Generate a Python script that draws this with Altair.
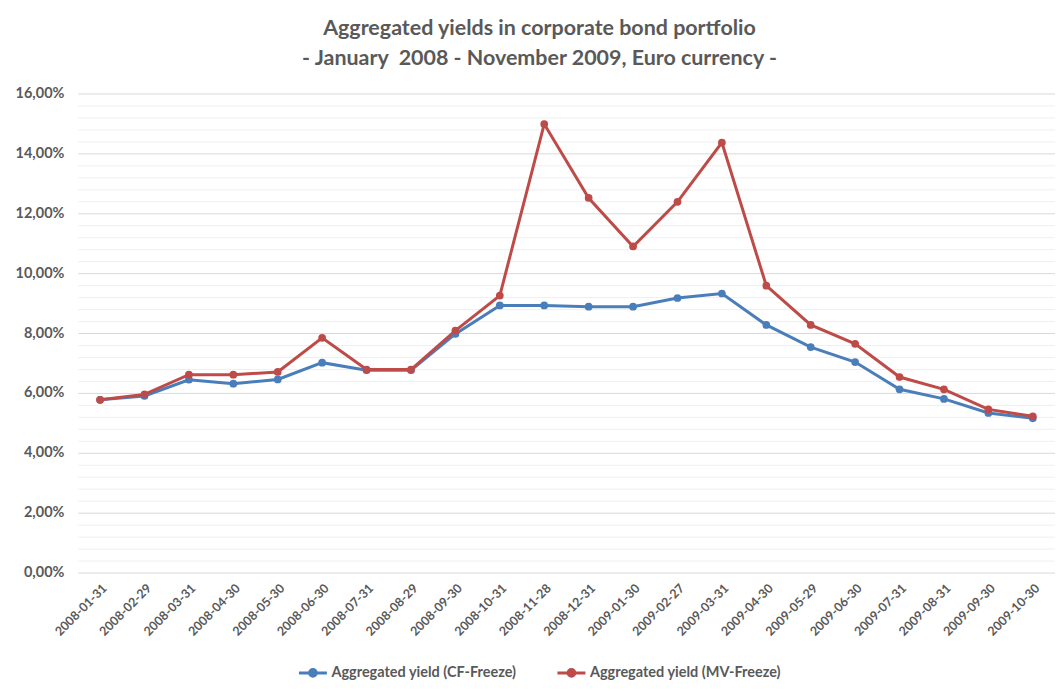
import altair as alt
import pandas as pd

dates = ["2008-01-31", "2008-02-29", "2008-03-31", "2008-04-30", "2008-05-30", "2008-06-30",
         "2008-07-31", "2008-08-29", "2008-09-30", "2008-10-31", "2008-11-28", "2008-12-31",
         "2009-01-30", "2009-02-27", "2009-03-31", "2009-04-30", "2009-05-29", "2009-06-30",
         "2009-07-31", "2009-08-31", "2009-09-30", "2009-10-30"]
cf_freeze = [0.0577, 0.0590, 0.0644, 0.0631, 0.0645, 0.0701, 0.0676, 0.0676, 0.0797, 0.0892,
             0.0892, 0.0888, 0.0888, 0.0917, 0.0932, 0.0827, 0.0753, 0.0703, 0.0612, 0.0580,
             0.0533, 0.0515]
mv_freeze = [0.0577, 0.0595, 0.0661, 0.0661, 0.0670, 0.0784, 0.0678, 0.0678, 0.0808, 0.0925,
             0.1498, 0.1251, 0.1089, 0.1238, 0.1436, 0.0958, 0.0827, 0.0764, 0.0653, 0.0612,
             0.0545, 0.0522]
series_names = ["Aggregated yield (CF-Freeze)", "Aggregated yield (MV-Freeze)"]
series_colors = ["#4a7ebb", "#be4b48"]
major_ticks = [0.0, 0.02, 0.04, 0.06, 0.08, 0.10, 0.12, 0.14, 0.16]
minor_ticks = [i * 0.004 for i in range(41) if i % 5 != 0]
title_lines = ["Aggregated yields in corporate bond portfolio",
               "- January\u00a0 2008 - November 2009, Euro currency -"]

rows = []
for d, v in zip(dates, cf_freeze):
    rows.append({"date": d, "yield": v, "series": series_names[0]})
for d, v in zip(dates, mv_freeze):
    rows.append({"date": d, "yield": v, "series": series_names[1]})
df = pd.DataFrame(rows)

FONT = "Lato"
GRAY = "#595959"

x_enc = alt.X("date:N", sort=dates, title=None,
              scale=alt.Scale(type="point", padding=0.5),
              axis=alt.Axis(labelAngle=-45, labelFont=FONT, labelFontSize=12.5,
                            labelFontWeight="bold", labelColor=GRAY, ticks=False,
                            domain=False, labelPadding=9, grid=False))
y_scale = alt.Scale(domain=[0, 0.16], nice=False)

color_enc = alt.Color("series:N", sort=series_names,
                      scale=alt.Scale(domain=series_names, range=series_colors),
                      legend=alt.Legend(title=None, orient="none", direction="horizontal",
                                        legendX=220, legendY=565,
                                        labelFont=FONT, labelFontSize=14.5,
                                        labelFontWeight="bold", labelColor=GRAY,
                                        labelLimit=400,
                                        symbolType="M-1,0L1,0M-0.24,0A0.24,0.24,0,1,0,0.24,0A0.24,0.24,0,1,0,-0.24,0",
                                        symbolSize=784, symbolStrokeWidth=3,
                                        columnPadding=34, labelOffset=3))

minor = alt.Chart(df).mark_line(opacity=0).encode(
    x=x_enc,
    y=alt.Y("yield:Q", scale=y_scale, title=None,
            axis=alt.Axis(values=minor_ticks, labels=False, ticks=False, domain=False,
                          grid=True, gridColor="#efefef", gridWidth=1, orient="right")),
)

lines = alt.Chart(df).mark_line(strokeWidth=3).encode(
    x=x_enc,
    y=alt.Y("yield:Q", scale=y_scale, title=None,
            axis=alt.Axis(values=major_ticks, format=".2%", labelFont=FONT, labelFontSize=14.5,
                          labelFontWeight="bold", labelColor=GRAY, ticks=False,
                          domain=False, grid=True, gridColor="#d9d9d9", gridWidth=1,
                          labelPadding=14, orient="left")),
    color=color_enc,
)

points = alt.Chart(df).mark_point(filled=True, size=60, opacity=1).encode(
    x=x_enc,
    y=alt.Y("yield:Q", scale=y_scale, axis=None),
    color=color_enc,
)

chart = alt.layer(minor, lines, points).resolve_axis(y="independent").properties(
    width=979, height=480,
    autosize=alt.AutoSizeParams(type="none"),
    padding={"left": 70, "top": 85, "right": 0, "bottom": 110},
    title=alt.TitleParams(text=title_lines, font=FONT, fontSize=21.5, fontWeight="bold",
                          color=GRAY, anchor="middle", lineHeight=30, offset=16, dx=-27),
).configure(
    locale={"number": {"decimal": ",", "thousands": ".", "grouping": [3],
                       "currency": ["", " €"]}}
).configure_view(stroke=None)

chart.save("out.html", embed_options={"renderer": "svg", "actions": False})
